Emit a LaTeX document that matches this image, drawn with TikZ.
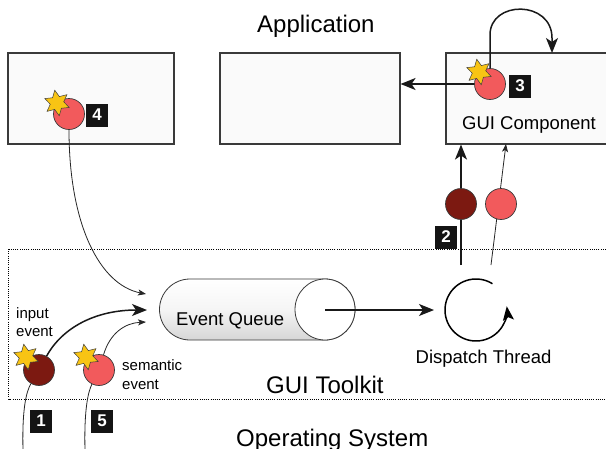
\documentclass[tikz,border=0pt]{standalone}
\usepackage{fontspec}
\setmainfont{Liberation Sans}
\usetikzlibrary{shapes.geometric,arrows.meta}
\definecolor{lred}{HTML}{F25A5C}
\definecolor{dred}{HTML}{7C1911}
\definecolor{starcol}{HTML}{F8C414}
\definecolor{boxfill}{HTML}{FAFAFA}
\definecolor{edge}{HTML}{3A3A3A}
\begin{document}
\begin{tikzpicture}[x=1pt,y=-1pt,
 appbox/.style={draw=edge,fill=boxfill,line width=1.1pt,inner sep=0pt,minimum height=91pt},
 ball/.style={circle,draw=edge,line width=0.7pt,minimum size=31pt,inner sep=0pt},
 burst/.style={star,star points=6,star point ratio=1.9,minimum size=26pt,fill=starcol,draw=edge,line width=0.5pt,inner sep=0pt,rotate=10},
 numbox/.style={fill=black!92,text=white,font=\fontsize{17}{17}\selectfont\bfseries,minimum width=22pt,minimum height=23pt,inner sep=0pt},
 big/.style={font=\fontsize{24}{28}\selectfont,inner sep=0pt,anchor=base west},
 mid/.style={font=\fontsize{18.5}{22}\selectfont,inner sep=0pt,anchor=base west},
 small/.style={font=\fontsize{15}{18}\selectfont,inner sep=0pt,anchor=base west},
 heavy/.style={draw=black!90,line width=1.5pt,-{Stealth[length=15pt,width=12pt,inset=4pt]}},
 light/.style={draw=black!85,line width=0.8pt,-{Stealth[length=8pt,width=6pt,inset=2pt]}},
 plain/.style={draw=black!85,line width=0.8pt}
]
\clip (0,0) rectangle (606,448);
\fill[white] (0,0) rectangle (606,448);

% toolkit region
\draw[line width=0.8pt,dash pattern=on 1pt off 1.2pt] (8.5,249) rectangle (650,399);

% application boxes
\node[appbox,minimum width=166pt] (box1) at (91,98.5) {};
\node[appbox,minimum width=180pt] (box2) at (310,98.5) {};
\node[appbox,minimum width=200pt] (gui) at (546,98.5) {};

% titles
\node[big] (app) at (257,32) {Application};
\node[mid] (guitext) at (462,129.3) {GUI Component};
\node[big] (toolkit) at (266,393.3) {GUI Toolkit};
\node[big] (os) at (236,446) {Operating System};

% event queue cylinder
\path[draw=edge,line width=0.8pt,top color=white,bottom color=black!16,middle color=white!96!black]
  (325,279) -- (190,279) arc[start angle=-90,end angle=-270,radius=30.5]
  -- (325,340) arc[start angle=90,end angle=-90,x radius=30,y radius=30.5] -- cycle;
\draw[edge,line width=0.8pt,fill=white] (325,309.5) ellipse[x radius=30,y radius=30.5];
\node[mid] (qtext) at (176,325) {Event Queue};
\coordinate (qend) at (325,310);
\coordinate (dtip) at (434,310);
\draw[heavy,line width=1.2pt] (qend) -- (dtip);

% dispatch thread
\coordinate (dcent) at (476,310);
\draw[line width=1.5pt,-{Stealth[length=14pt,width=11pt,inset=3pt]}]
  (dcent) ++(-58:31) arc[start angle=-58,end angle=-367,radius=31];
\node[mid] (dtext) at (415.5,363.3) {Dispatch Thread};

% dispatch arrows up to GUI component
\coordinate (d2) at (461,265);
\coordinate (d3) at (491,265);
\coordinate (g2) at (506,144);
\draw[heavy] (d2) -- (d2 |- gui.south);
\draw[light] (d3) -- (g2);
\node[ball,fill=dred] (b2) at (461,204) {};
\node[ball,fill=lred] (b2b) at (501,204) {};
\node[numbox] (n2) at (446,237) {2};

% component 3
\node[ball,fill=lred] (b3) at (490,84) {};
\node[burst] (s3) at (479,72) {};
\node[numbox] (n3) at (520,86) {3};
\draw[heavy] (b3) -- (b3 -| box2.east);
\coordinate (loopend) at (552,53);
\draw[heavy] (b3.north) -- (490,35) .. controls (490,0) and (552,0) .. (552,38) -- (loopend);

% component 4
\node[ball,fill=lred] (b4) at (69,114) {};
\node[burst] (s4) at (57,103) {};
\node[numbox] (n4) at (97,115) {4};
\coordinate (in4) at (146,294);
\draw[light] (b4) .. controls (69,225) and (100,285) .. (in4);

% input event 1
\coordinate (o1) at (23,450);
\coordinate (in1) at (147,310);
\node[ball,fill=dred] (b1) at (39,370) {};
\node[burst] (s1) at (26,357) {};
\draw[plain] (o1) .. controls (22,410) and (26,392) .. (b1);
\draw[heavy] (b1) .. controls (62,328) and (95,310) .. (in1);
\node[numbox] (n1) at (41,421) {1};
\node[small] (inp1) at (16,318.3) {input};
\node[small] (inp2) at (16,336.5) {event};

% semantic event 5
\coordinate (o5) at (85,450);
\coordinate (in5) at (146,322);
\node[ball,fill=lred] (b5) at (99,370) {};
\node[burst] (s5) at (86,357) {};
\draw[plain] (o5) .. controls (84,410) and (88,392) .. (b5);
\draw[light] (b5) .. controls (110,333) and (125,323) .. (in5);
\node[numbox] (n5) at (102,421) {5};
\node[small] (sem1) at (122,370) {semantic};
\node[small] (sem2) at (122,389) {event};
\end{tikzpicture}
\end{document}
